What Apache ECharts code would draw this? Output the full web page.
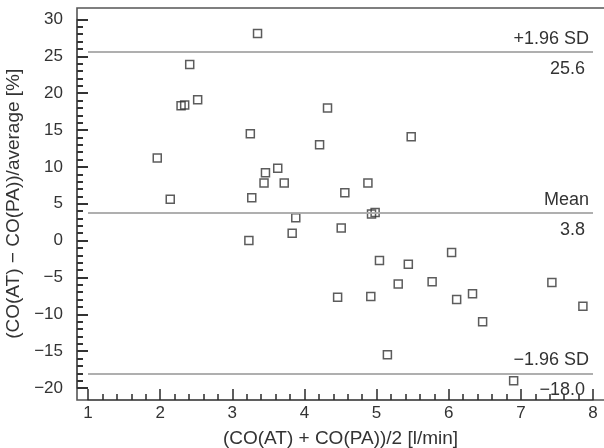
<!DOCTYPE html>
<html>
<head>
<meta charset="utf-8">
<script src="https://cdn.jsdelivr.net/npm/echarts@6/dist/echarts.min.js"></script>
<style>
  html, body { margin: 0; padding: 0; background: #fff; }
  #chart { width: 604px; height: 448px; }
</style>
</head>
<body>
<div id="chart"></div>
<script>
// Bland–Altman plot: mean cardiac output vs. relative difference of the two methods
const meanCO = [1.96, 2.14, 2.29, 2.34, 2.41, 2.52, 3.23, 3.25, 3.27, 3.35,
                3.44, 3.46, 3.63, 3.72, 3.83, 3.88, 4.21, 4.32, 4.46, 4.51,
                4.56, 4.88, 4.92, 4.93, 4.98, 5.04, 5.15, 5.30, 5.44, 5.48,
                5.77, 6.04, 6.11, 6.33, 6.47, 6.90, 7.43, 7.86];
const diffPct = [11.2, 5.6, 18.3, 18.4, 23.9, 19.1, 0.0, 14.5, 5.8, 28.1,
                 7.8, 9.2, 9.8, 7.8, 1.0, 3.1, 13.0, 18.0, -7.7, 1.7,
                 6.5, 7.8, -7.6, 3.6, 3.8, -2.7, -15.5, -5.9, -3.2, 14.1,
                 -5.6, -1.6, -8.0, -7.2, -11.0, -19.0, -5.7, -8.9];

// Limits of agreement and bias
const refNames = ['+1.96 SD', 'Mean', '\u22121.96 SD'];
const refValues = [25.6, 3.8, -18.0];

// Axis ranges and ticks
const xMin = 1, xMax = 8, xStep = 1;
const yMin = -20, yMax = 30, yStep = 5;

const W = 604, H = 448;
const frameLeft = 77, frameTop = 8, frameBottom = 400;
// plotting area (x from 1 to 8, y from -20 to 30)
const plotGrid = { left: 88, right: 11, top: 19.5, bottom: 60, outerBoundsMode: 'none', containLabel: false };
// same vertical span with its left edge on the frame: carries the visible y axis
const frameGrid = { left: frameLeft, right: 11, top: 19.5, bottom: 60, outerBoundsMode: 'none', containLabel: false };

const FONT = '"Liberation Sans", Arial, Helvetica, sans-serif';
const TEXT = '#333';
const AXIS = '#555';
const minus = s => String(s).replace('-', '\u2212');

const points = meanCO.map((x, i) => [x, diffPct[i]]);

const lineData = [];
refValues.forEach((v, i) => {
  lineData.push({ yAxis: v, label: { formatter: refNames[i], position: 'insideEndTop', distance: 4 } });
  lineData.push({ yAxis: v, label: { formatter: minus(v.toFixed(1)), position: 'insideEndBottom', distance: 8 } });
});

const xTickStyle = { color: '#2a2a2a', width: 1.5 };
const yTickStyle = { color: '#333', width: 2 };
const hiddenAxis = {
  axisLine: { show: false }, axisTick: { show: false }, minorTick: { show: false },
  axisLabel: { show: false }, splitLine: { show: false }
};

const chart = echarts.init(document.getElementById('chart'), null, { renderer: 'canvas' });
chart.setOption({
  animation: false,
  backgroundColor: '#fff',
  textStyle: { fontFamily: FONT },
  grid: [plotGrid, frameGrid],
  xAxis: [{
    gridIndex: 0,
    type: 'value', min: xMin, max: xMax, interval: xStep,
    position: 'bottom', offset: frameBottom - (H - plotGrid.bottom),
    axisLine: { show: true, onZero: false, lineStyle: { color: AXIS, width: 1.6 } },
    axisTick: { show: true, inside: true, length: 11, lineStyle: xTickStyle },
    minorTick: { show: true, splitNumber: 5, length: 6, lineStyle: xTickStyle },
    splitLine: { show: false },
    axisLabel: { color: TEXT, fontSize: 17, fontFamily: FONT, margin: 5 },
    name: '(CO(AT) + CO(PA))/2 [l/min]',
    nameLocation: 'middle', nameGap: 29,
    nameTextStyle: { color: TEXT, fontSize: 19, fontFamily: FONT }
  }, Object.assign({
    gridIndex: 1, type: 'value', min: xMin, max: xMax
  }, hiddenAxis)],
  yAxis: [Object.assign({
    gridIndex: 0, type: 'value', min: yMin, max: yMax, interval: yStep
  }, hiddenAxis), {
    gridIndex: 1,
    type: 'value', min: yMin, max: yMax, interval: yStep,
    position: 'left',
    axisLine: { show: true, onZero: false, lineStyle: { color: AXIS, width: 1.6 } },
    axisTick: { show: true, inside: true, length: 11, lineStyle: yTickStyle },
    minorTick: { show: true, splitNumber: 5, length: 6, lineStyle: yTickStyle },
    splitLine: { show: false },
    axisLabel: { color: TEXT, fontSize: 17, fontFamily: FONT, margin: 14, formatter: v => minus(v) },
    name: '(CO(AT) \u2212 CO(PA))/average [%]',
    nameLocation: 'middle', nameGap: 48, nameRotate: 90,
    nameTextStyle: { color: TEXT, fontSize: 19, fontFamily: FONT }
  }],
  series: [{
    type: 'scatter',
    xAxisIndex: 0, yAxisIndex: 0,
    data: points,
    symbol: 'rect',
    symbolSize: 8,
    itemStyle: { color: 'rgba(255,255,255,0)', borderColor: '#333', borderWidth: 1.5 },
    markLine: {
      silent: true,
      symbol: 'none',
      lineStyle: { color: '#aaa', width: 1.5, type: 'solid' },
      label: { color: TEXT, fontSize: 18, fontFamily: FONT },
      data: lineData
    }
  }],
  graphic: [{
    type: 'polyline',
    silent: true,
    shape: { points: [[W, frameTop], [frameLeft, frameTop], [frameLeft, frameBottom], [W, frameBottom]] },
    style: { stroke: AXIS, lineWidth: 1.6, fill: null }
  }]
});
</script>
</body>
</html>
